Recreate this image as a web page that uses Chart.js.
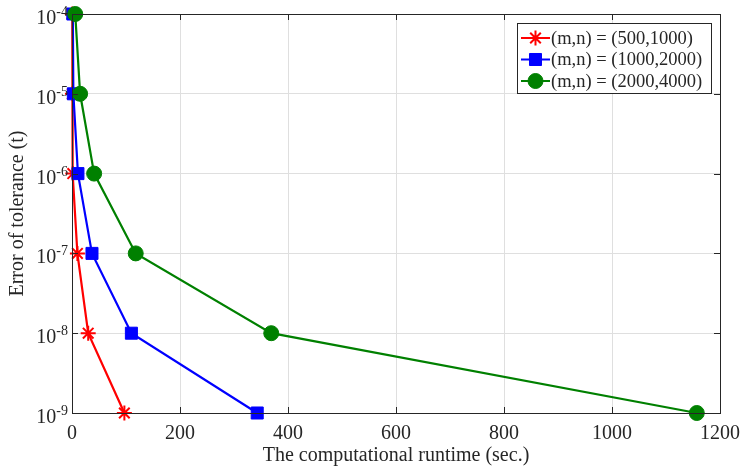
<!DOCTYPE html>
<html><head><meta charset="utf-8">
<script src="https://cdn.jsdelivr.net/npm/chart.js@4"></script>
<style>html,body{margin:0;padding:0;background:#fff}#wrap{width:742px;height:472px}</style>
</head><body><div id="wrap"><canvas id="c" width="742" height="472"></canvas></div>
<script>
const seriesLabels = ['(m,n) = (500,1000)', '(m,n) = (1000,2000)', '(m,n) = (2000,4000)'];
const tolerances = [1e-4, 1e-5, 1e-6, 1e-7, 1e-8, 1e-9];
const runtime500 = [0.5, 0.8, 1.5, 10, 30, 97];
const runtime1000 = [1.5, 2.5, 11, 37, 110, 343];
const runtime2000 = [6, 15, 41, 118, 369, 1157];
const xTickValues = [0, 200, 400, 600, 800, 1000, 1200];
const yExponents = [-9, -8, -7, -6, -5, -4];
const seriesColors = ['#ff0000', '#0000ff', '#008000'];
const seriesMarkers = ['star', 'rect', 'circle'];

const FONT = '"Liberation Serif", "Times New Roman", serif';
const TXT = '#262626';
const toPts = arr => arr.map((x, i) => ({x: x, y: tolerances[i]}));
const markerRadius = {star: 7.5, rect: 8.5, circle: 7.5};

const boxPlugin = {
  id: 'boxPlugin',
  afterDraw(chart) {
    const ctx = chart.ctx, a = chart.chartArea;
    const xs = chart.scales.x, ys = chart.scales.y;
    ctx.save();
    ctx.strokeStyle = TXT; ctx.lineWidth = 1;
    ctx.strokeRect(Math.round(a.left) + 0.5, Math.round(a.top) + 0.5, Math.round(a.right - a.left), Math.round(a.bottom - a.top));
    // inward ticks
    ctx.beginPath();
    xTickValues.forEach(v => {
      const px = Math.round(xs.getPixelForValue(v)) + 0.5;
      ctx.moveTo(px, a.bottom); ctx.lineTo(px, a.bottom - 6);
      ctx.moveTo(px, a.top); ctx.lineTo(px, a.top + 6);
    });
    yExponents.forEach(e => {
      const py = Math.round(ys.getPixelForValue(Math.pow(10, e))) + 0.5;
      ctx.moveTo(a.left, py); ctx.lineTo(a.left + 6, py);
      ctx.moveTo(a.right, py); ctx.lineTo(a.right - 6, py);
    });
    ctx.stroke();
    // y tick labels 10^e
    ctx.fillStyle = TXT;
    ctx.textBaseline = 'alphabetic';
    yExponents.forEach(e => {
      const py = ys.getPixelForValue(Math.pow(10, e));
      const expTxt = String(e);
      ctx.font = '14px ' + FONT;
      const ew = ctx.measureText(expTxt).width;
      const rightEdge = a.left - 4;
      ctx.textAlign = 'left';
      ctx.fillText(expTxt, rightEdge - ew, py + 2);
      ctx.font = '20px ' + FONT;
      ctx.textAlign = 'right';
      ctx.fillText('10', rightEdge - ew, py + 10);
    });
    // legend
    const lx = 517, ly = 23, lw = 194, lh = 70;
    ctx.fillStyle = '#ffffff';
    ctx.fillRect(lx, ly, lw, lh);
    ctx.strokeStyle = TXT; ctx.lineWidth = 1;
    ctx.strokeRect(lx + 0.5, ly + 0.5, lw, lh);
    chart.data.datasets.forEach((ds, i) => {
      const cy = 38 + i * 21.5;
      ctx.strokeStyle = ds.borderColor; ctx.fillStyle = ds.borderColor; ctx.lineWidth = 2;
      ctx.beginPath(); ctx.moveTo(521, cy); ctx.lineTo(550, cy); ctx.stroke();
      ctx.lineWidth = ds.pointBorderWidth;
      Chart.helpers.drawPoint(ctx, {pointStyle: ds.pointStyle, radius: ds.pointRadius, borderWidth: ds.pointBorderWidth, rotation: 0}, 535.5, cy);
      ctx.fillStyle = TXT;
      ctx.font = '18.5px ' + FONT;
      ctx.textAlign = 'left'; ctx.textBaseline = 'middle';
      ctx.fillText(ds.label, 551, cy + 1);
    });
    ctx.restore();
  }
};

const datasets = [runtime500, runtime1000, runtime2000].map((arr, i) => {
  const m = seriesMarkers[i];
  return {
    label: seriesLabels[i],
    data: toPts(arr),
    borderColor: seriesColors[i],
    backgroundColor: seriesColors[i],
    pointBackgroundColor: seriesColors[i],
    pointBorderColor: seriesColors[i],
    borderWidth: 2.2,
    pointStyle: m,
    pointRadius: markerRadius[m],
    pointHoverRadius: markerRadius[m],
    pointBorderWidth: m === 'star' ? 2 : 1,
    tension: 0,
    clip: false,
    order: 3 - i
  };
});

new Chart(document.getElementById('c'), {
  type: 'line',
  data: {datasets},
  options: {
    responsive: false,
    devicePixelRatio: 1,
    animation: false,
    layout: {padding: {top: 14, right: 22, left: 0, bottom: 0}},
    plugins: {legend: {display: false}, tooltip: {enabled: false}},
    scales: {
      x: {
        type: 'linear', min: 0, max: 1200,
        afterBuildTicks: s => { s.ticks = xTickValues.map(v => ({value: v})); },
        afterFit: s => { s.height = 59; s.paddingLeft = 0; s.paddingRight = 0; },
        grid: {color: '#dfdfdf', drawTicks: false, lineWidth: 1},
        border: {display: false},
        ticks: {color: TXT, font: {family: FONT, size: 20}, padding: 9, maxRotation: 0, callback: v => String(v)},
        title: {display: true, text: 'The computational runtime (sec.)', color: TXT, font: {family: FONT, size: 20}, padding: {top: 0, bottom: 4}}
      },
      y: {
        type: 'logarithmic', min: 1e-9, max: 1e-4,
        afterBuildTicks: s => { s.ticks = yExponents.map(e => ({value: Math.pow(10, e)})); },
        afterFit: s => { s.width = 72; s.paddingTop = 0; s.paddingBottom = 0; },
        grid: {color: '#dfdfdf', drawTicks: false, lineWidth: 1},
        border: {display: false},
        ticks: {display: false},
        title: {display: true, text: 'Error of tolerance (t)', color: TXT, font: {family: FONT, size: 20}, padding: {top: 6, bottom: 0}}
      }
    }
  },
  plugins: [boxPlugin]
});
</script></body></html>
